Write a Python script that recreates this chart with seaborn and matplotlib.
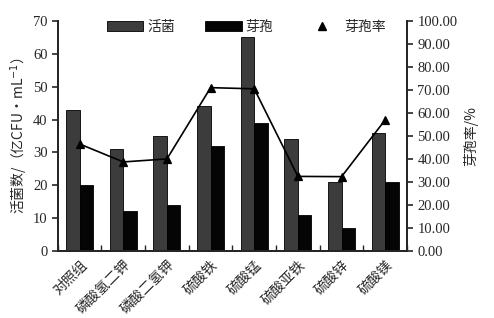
import numpy as np
import pandas as pd
import matplotlib
matplotlib.use("Agg")
import matplotlib.pyplot as plt
from matplotlib.patches import Patch
from matplotlib.lines import Line2D
import seaborn as sns

categories = ["对照组", "磷酸氢二钾", "磷酸二氢钾", "硫酸铁", "硫酸锰", "硫酸亚铁", "硫酸锌", "硫酸镁"]
live = [43, 31, 35, 44, 65, 34, 21, 36]
spore = [20, 12, 14, 32, 39, 11, 7, 21]
spore_rate = [46.5, 38.7, 40.0, 71.0, 70.5, 32.4, 32.3, 57.0]
series_names = ["活菌", "芽孢"]
rate_name = "芽孢率"
left_ticks = [0, 10, 20, 30, 40, 50, 60, 70]
right_ticks = [0, 10, 20, 30, 40, 50, 60, 70, 80, 90, 100]

sns.set_style("ticks")
plt.rcParams['font.family'] = ['Liberation Serif', 'Noto Sans CJK SC']
plt.rcParams['axes.linewidth'] = 1.4

df = pd.DataFrame({
    "cat": categories * 2,
    "val": live + spore,
    "series": [series_names[0]] * len(categories) + [series_names[1]] * len(categories),
})
df_rate = pd.DataFrame({"cat": categories, "rate": spore_rate})

fig = plt.figure(figsize=(4.94, 3.18), dpi=100)
ax = fig.add_axes([0.117, 0.211, 0.707, 0.723])

colors = {"活菌": "#3c3c3c", "芽孢": "#050505"}
sns.barplot(data=df, x="cat", y="val", hue="series", palette=colors, width=0.62,
            edgecolor="black", linewidth=0.6, ax=ax, legend=False, errorbar=None,
            saturation=1)

ax2 = ax.twinx()
sns.pointplot(data=df_rate, x="cat", y="rate", color="black", markers="^",
              linewidth=1.2, markersize=6, ax=ax2, errorbar=None)

ax.set_xlim(-0.5, len(categories) - 0.5)
ax.set_ylim(0, 70)
ax.set_yticks(left_ticks)
ax2.set_ylim(0, 100)
ax2.set_yticks(right_ticks)
ax2.set_yticklabels([f"{v:.2f}" for v in right_ticks])
ax2.set_xlim(-0.5, len(categories) - 0.5)

ax.set_xticks(np.arange(len(categories) + 1) - 0.5, minor=False)
ax.set_xticklabels([])
ax.set_xticks(np.arange(len(categories)), minor=True)
ax.set_xticklabels(categories, minor=True, rotation=45, ha="right",
                   rotation_mode="anchor", fontsize=10, family=['Noto Sans CJK SC'])
ax.tick_params(axis="x", which="major", direction="in", length=4, width=1)
ax.tick_params(axis="x", which="minor", length=0, pad=5)
ax.tick_params(axis="y", direction="out", length=4, width=1.2, labelsize=10.5)
ax2.tick_params(axis="y", direction="out", length=4, width=1.2, labelsize=10.5)
ax.set_xlabel("")
ax2.set_xlabel("")

ax.spines["top"].set_visible(False)
ax2.spines["top"].set_visible(False)
ax2.spines["right"].set_visible(True)
ax2.spines["right"].set_linewidth(1.4)

ax.set_ylabel("活菌数/（亿CFU・mL$^{-1}$）", fontsize=10, family=['Noto Sans CJK SC', 'DejaVu Sans'], labelpad=2)
ax2.set_ylabel("芽孢率/%", fontsize=10, family=['Noto Sans CJK SC', 'DejaVu Sans'], labelpad=4)

handles = [Patch(facecolor=colors["活菌"], edgecolor="black", linewidth=0.6),
           Patch(facecolor=colors["芽孢"], edgecolor="black", linewidth=0.6),
           Line2D([], [], color="black", marker="^", linestyle="none", markersize=6)]
leg = ax.legend(handles, series_names + [rate_name], loc="upper center", ncol=3,
                frameon=False, handlelength=2.6, handleheight=0.7, columnspacing=2.2,
                handletextpad=0.3, bbox_to_anchor=(0.54, 1.06),
                prop={"family": "Noto Sans CJK SC", "size": 10})

fig.savefig("out.png", dpi=100)
